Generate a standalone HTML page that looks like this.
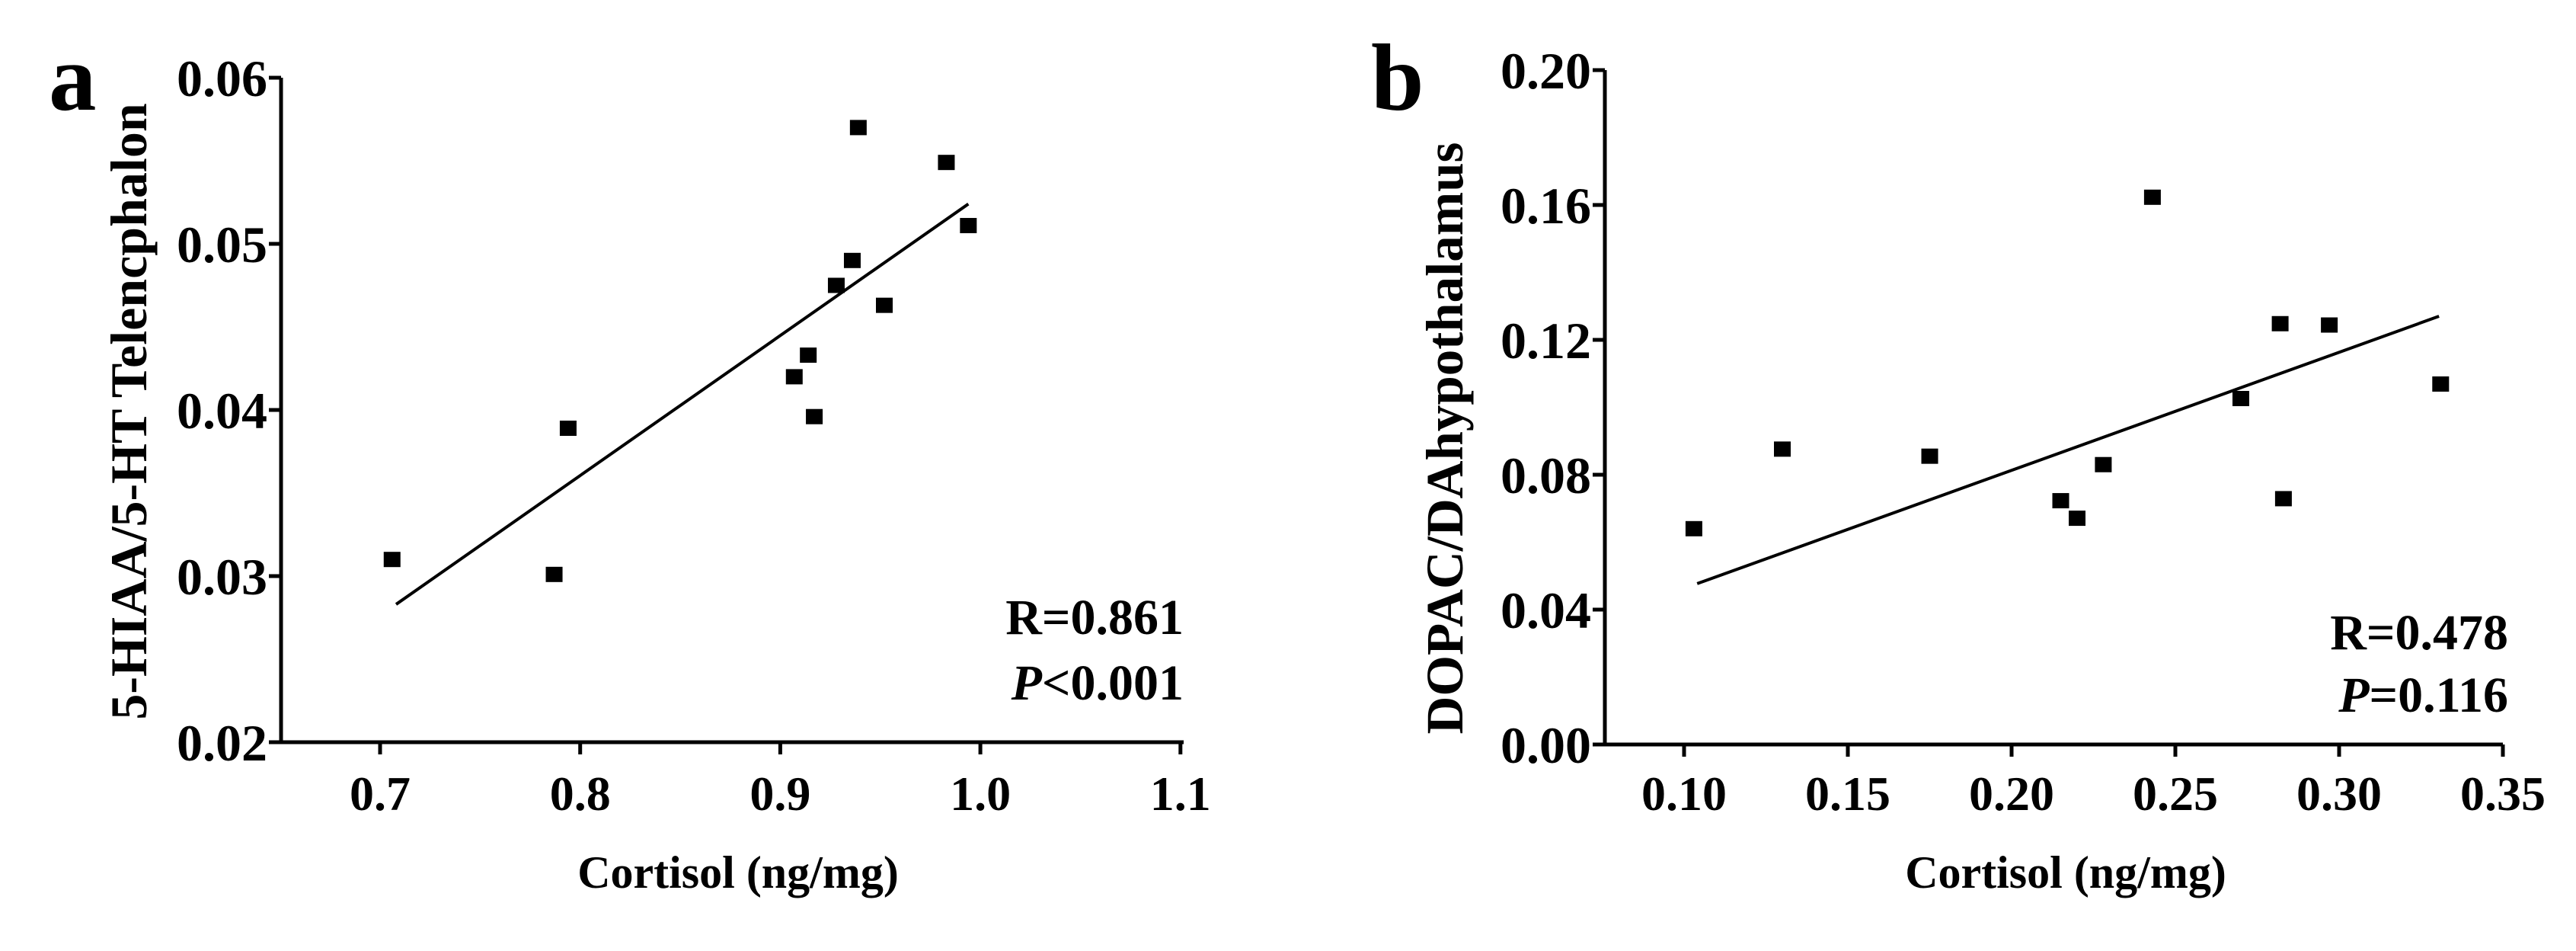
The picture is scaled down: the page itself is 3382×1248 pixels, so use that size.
<!DOCTYPE html>
<html><head><meta charset="utf-8"><style>
html,body{margin:0;padding:0;background:#fff;}
svg{display:block;font-family:"Liberation Serif",serif;font-weight:bold;}
</style></head><body>
<svg id="fig" width="3382" height="1248" viewBox="0 0 3382 1248"></svg>
<script>
const aX=[0.706,0.787,0.794,0.907,0.914,0.917,0.928,0.936,0.939,0.952,0.983,0.994];
const aY=[0.0310,0.0301,0.0389,0.0420,0.0433,0.0396,0.0475,0.0490,0.0570,0.0463,0.0549,0.0511];
const aFit=[[0.708,0.0283],[0.994,0.0524]];
const aXTicks=[0.7,0.8,0.9,1.0,1.1];
const aXTickLabels=["0.7","0.8","0.9","1.0","1.1"];
const aYTicks=[0.02,0.03,0.04,0.05,0.06];
const aYTickLabels=["0.02","0.03","0.04","0.05","0.06"];
const bX=[0.103,0.130,0.175,0.215,0.220,0.228,0.243,0.270,0.282,0.283,0.297,0.331];
const bY=[0.0640,0.0876,0.0855,0.0723,0.0671,0.0830,0.1623,0.1026,0.1248,0.0729,0.1244,0.1069];
const bFit=[[0.104,0.0477],[0.3305,0.127]];
const bXTicks=[0.10,0.15,0.20,0.25,0.30,0.35];
const bXTickLabels=["0.10","0.15","0.20","0.25","0.30","0.35"];
const bYTicks=[0,0.04,0.08,0.12,0.16,0.20];
const bYTickLabels=["0.00","0.04","0.08","0.12","0.16","0.20"];

const NS="http://www.w3.org/2000/svg";
const svg=document.getElementById('fig');
function mk(tag,attrs,parent,text){const e=document.createElementNS(NS,tag);for(const k in attrs)e.setAttribute(k,attrs[k]);if(text!==undefined)e.textContent=text;(parent||svg).appendChild(e);return e;}

function panel(p){
  const g=mk('g',{});
  
  
  const sx=v=>p.x0+(v-p.xv0)*p.kx;
  const sy=v=>p.y0-(v-p.yv0)*p.ky;
  const ax=mk('path',{d:`M${p.axL} ${p.y0} H${p.axR} M${p.axL} ${p.y0} V${p.axT}`,stroke:'#000','stroke-width':5,fill:'none'},g);
  
  
  p.xt.forEach((v,i)=>{
    const x=sx(v);
    const t=mk('line',{x1:x,x2:x,y1:p.y0,y2:p.y0+16,stroke:'#000','stroke-width':5},g);
    
    
    const l=mk('text',{x:x,y:1063,'text-anchor':'middle','font-size':64},g,p.xtl[i]);
    
    
  });
  p.yt.forEach((v,i)=>{
    const y=sy(v);
    const t=mk('line',{x1:p.axL-16,x2:p.axL,y1:y,y2:y,stroke:'#000','stroke-width':5},g);
    
    
    const l=mk('text',{x:p.axL-18,y:y+24,'text-anchor':'end','font-size':68},g,p.ytl[i]);
    
    
  });
  p.px.forEach((v,i)=>{
    const r=mk('rect',{x:sx(v)-11,y:sy(p.py[i])-10,width:22,height:20,fill:'#000'},g);
    
    
  });
  const f=mk('line',{x1:sx(p.fit[0][0]),y1:sy(p.fit[0][1]),x2:sx(p.fit[1][0]),y2:sy(p.fit[1][1]),stroke:'#000','stroke-width':4},g);
  
  
  const xtitle=mk('text',{x:p.xtX,y:1165,'text-anchor':'middle','font-size':60},g,'Cortisol (ng/mg)');
  
  
  const yt=mk('text',{transform:`translate(${p.ytX},${p.ytY}) rotate(-90)`,'text-anchor':'middle','font-size':p.ytF},g,p.ytitle);
  
  
  const lt=mk('text',{x:p.letX,y:144,'font-size':125},g,p.id);
  
  
  const r1=mk('text',{x:p.annR,y:p.annY1,'text-anchor':'end','font-size':66},g,p.r);
  
  
  const r2=mk('text',{x:p.annR,y:p.annY2,'text-anchor':'end','font-size':66},g);
  
  
  mk('tspan',{'font-style':'italic'},r2,'P');
  mk('tspan',{},r2,p.pv);
}
panel({id:'a',x0:499,xv0:0.7,kx:2627,y0:974,yv0:0.02,ky:21800,axL:369,axR:1554,axT:102,
  xt:aXTicks,xtl:aXTickLabels,yt:aYTicks,ytl:aYTickLabels,px:aX,py:aY,fit:aFit,
  xtX:969,ytX:192,ytY:540,ytF:68,ytitle:'5-HIAA/5-HT Telencphalon',letX:64,
  annR:1554,annY1:832,annY2:918,r:'R=0.861',pv:'<0.001'});
panel({id:'b',x0:2211,xv0:0.10,kx:4300,y0:977,yv0:0,ky:4425,axL:2107,axR:3286,axT:92,
  xt:bXTicks,xtl:bXTickLabels,yt:bYTicks,ytl:bYTickLabels,px:bX,py:bY,fit:bFit,
  xtX:2712,ytX:1920,ytY:575,ytF:69,ytitle:'DOPAC/DAhypothalamus',letX:1800,
  annR:3293,annY1:852,annY2:934,r:'R=0.478',pv:'=0.116'});
</script>
</body></html>
